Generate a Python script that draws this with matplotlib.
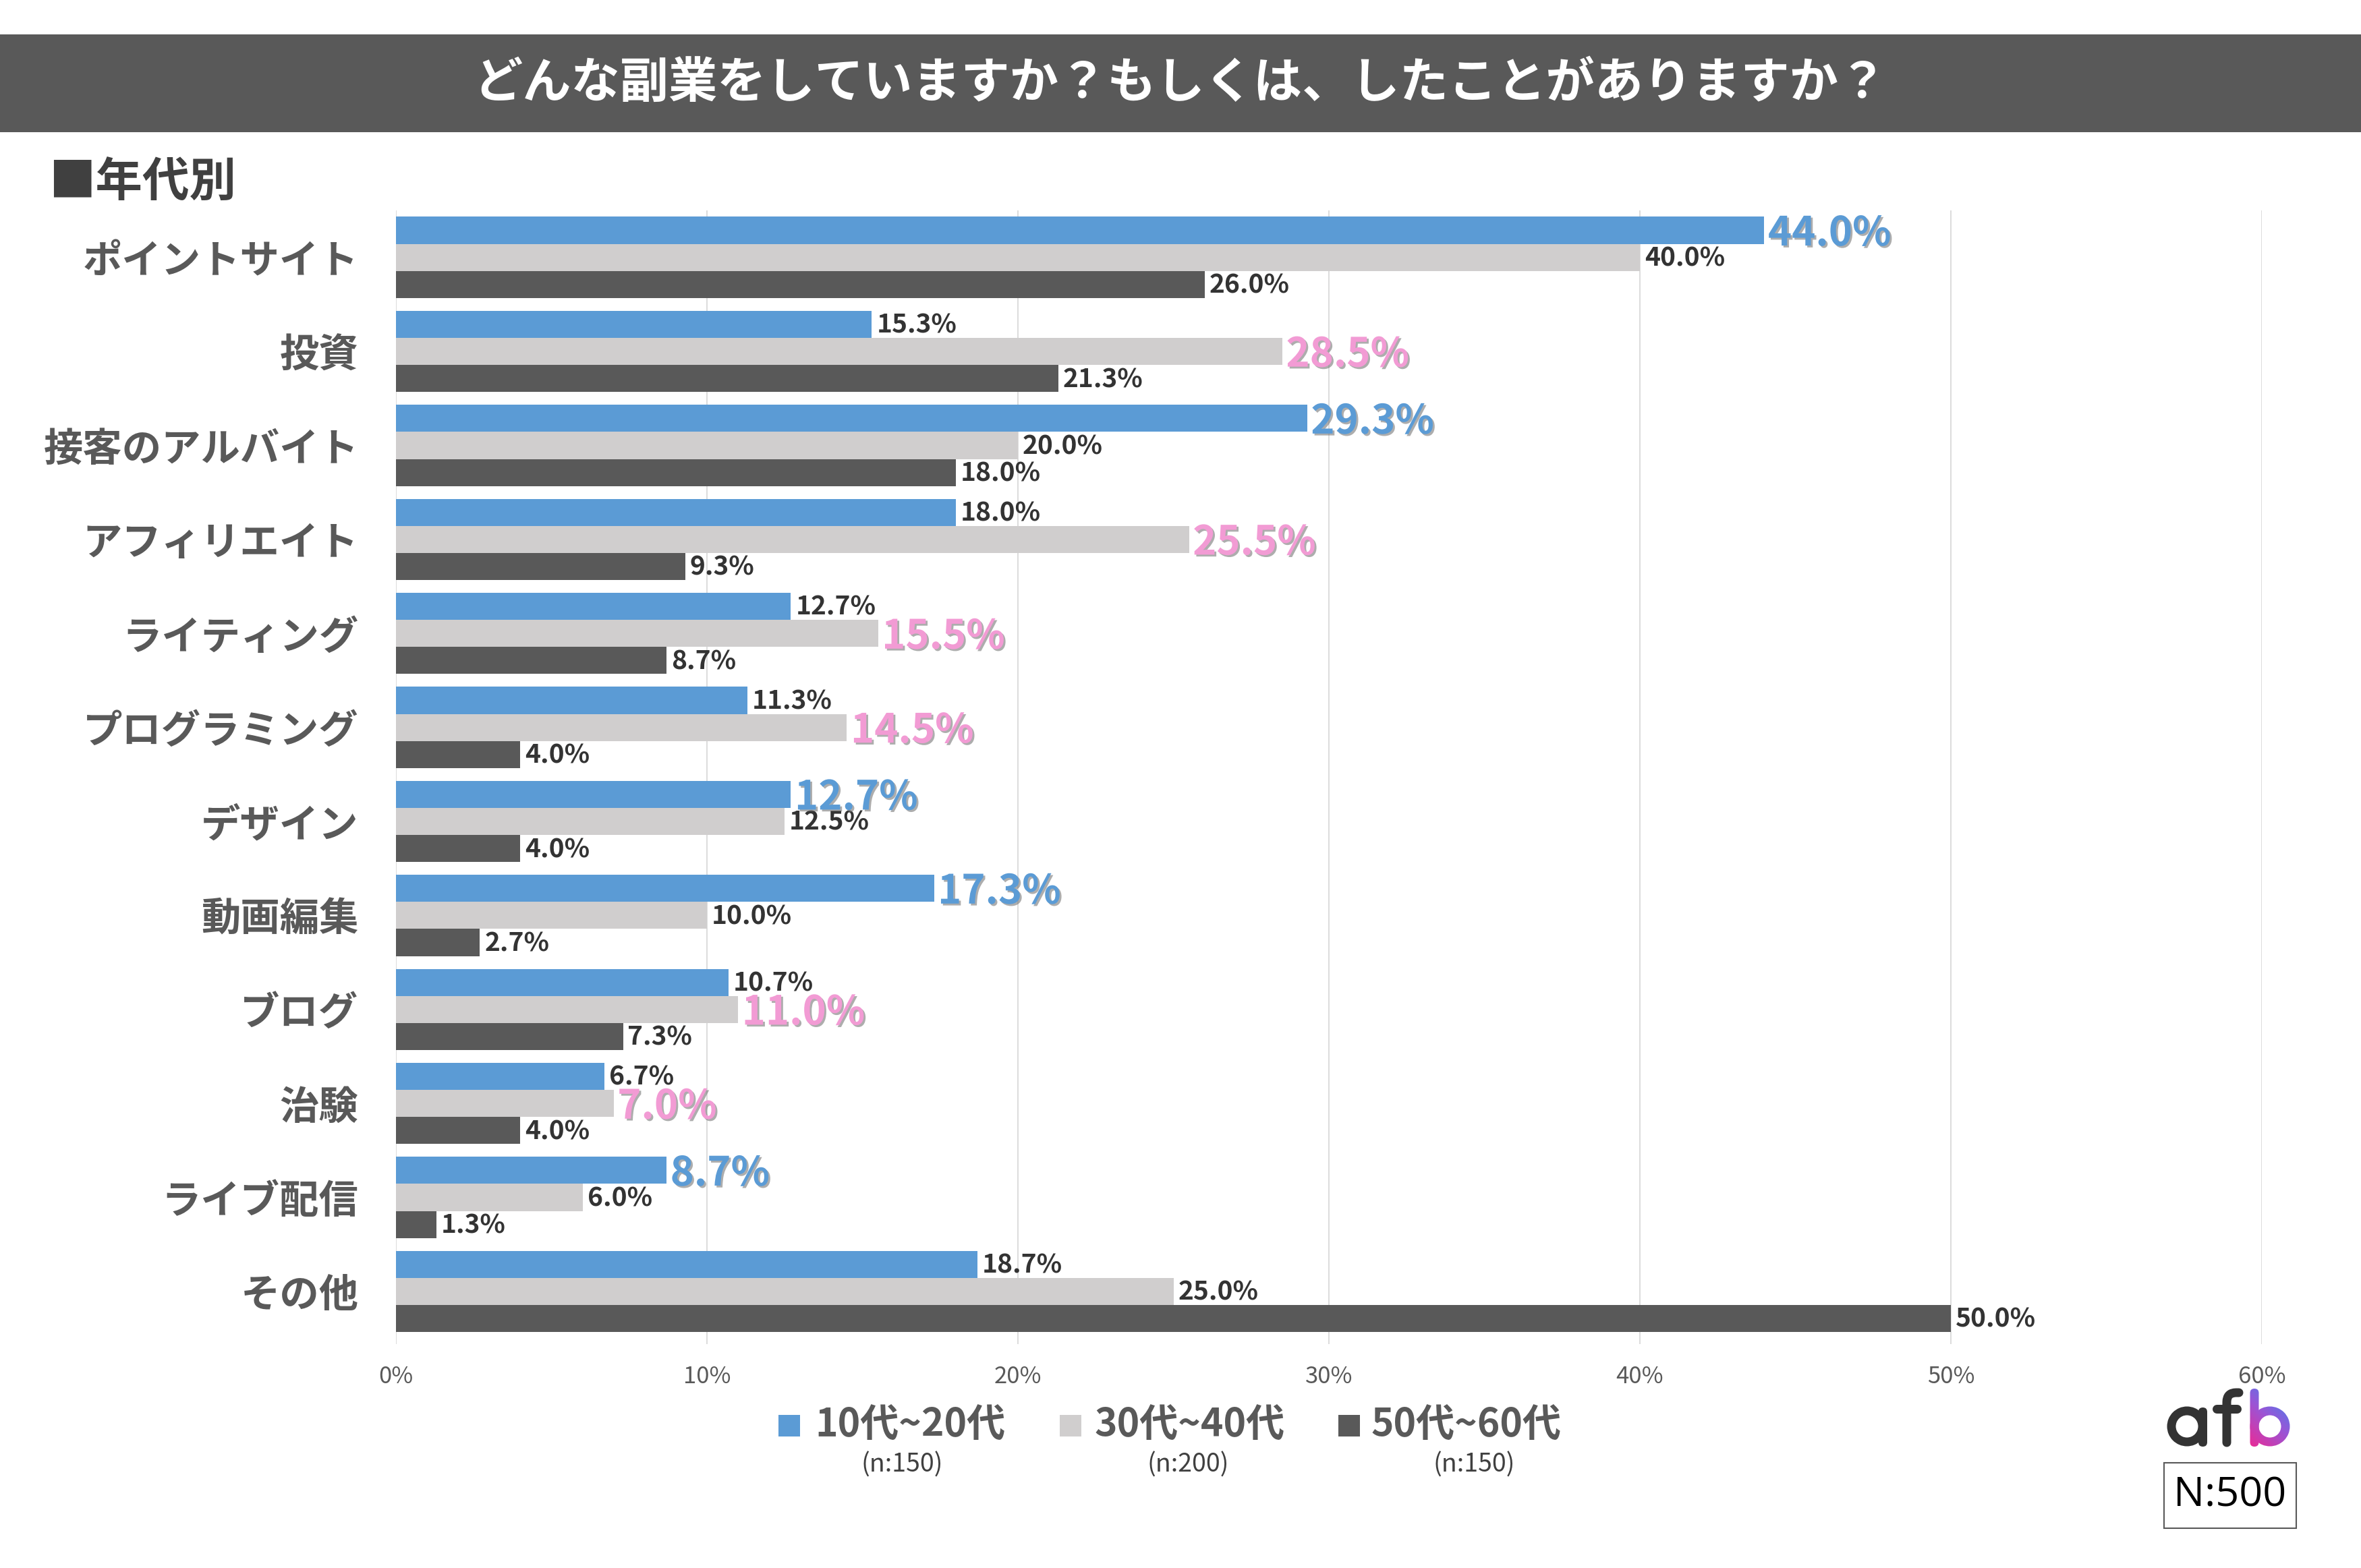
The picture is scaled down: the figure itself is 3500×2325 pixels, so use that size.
import numpy as np
import matplotlib
matplotlib.use("Agg")
import matplotlib.pyplot as plt
import matplotlib.patheffects as pe
from matplotlib.patches import Rectangle, PathPatch, Wedge, FancyBboxPatch
from matplotlib.path import Path

plt.rcParams["font.family"] = ["Noto Sans CJK JP", "DejaVu Sans"]

# ─────────────────────────────────────────────
# data
# ─────────────────────────────────────────────
categories = ["ポイントサイト", "投資", "接客のアルバイト", "アフィリエイト",
              "ライティング", "プログラミング", "デザイン", "動画編集",
              "ブログ", "治験", "ライブ配信", "その他"]
age_10_20 = [44.0, 15.3, 29.3, 18.0, 12.7, 11.3, 12.7, 17.3, 10.7, 6.7, 8.7, 18.7]
age_30_40 = [40.0, 28.5, 20.0, 25.5, 15.5, 14.5, 12.5, 10.0, 11.0, 7.0, 6.0, 25.0]
age_50_60 = [26.0, 21.3, 18.0, 9.3, 8.7, 4.0, 4.0, 2.7, 7.3, 4.0, 1.3, 50.0]
# which series gets the big coloured label in each row (None = none)
highlight = [0, 1, 0, 1, 1, 1, 0, 0, 1, 1, 0, None]

series_names = ["10代~20代", "30代~40代", "50代~60代"]
series_n = ["(n:150)", "(n:200)", "(n:150)"]
bar_colors = ["#5B9BD5", "#D0CECE", "#595959"]
hl_colors = ["#5B9BD5", "#F29BD4", None]
xticks = [0, 10, 20, 30, 40, 50, 60]

title = "どんな副業をしていますか？もしくは、したことがありますか？"
W, H = 3500, 2325

fig = plt.figure(figsize=(W / 100, H / 100), dpi=100)
fig.patch.set_facecolor("white")

# title band
fig.patches.append(Rectangle((0, 1 - 196 / H), 1, 145 / H, transform=fig.transFigure,
                             facecolor="#595959", edgecolor="none", zorder=0))
fig.text(0.5, 1 - 124 / H, title, color="white", fontsize=52, fontweight="bold",
         ha="center", va="center")
fig.text(72 / W, 1 - 272 / H, "■年代別", color="#404040", fontsize=50,
         fontweight="bold", ha="left", va="center")

# ─────────────────────────────────────────────
# bars
# ─────────────────────────────────────────────
ax = fig.add_axes([587 / W, 1 - 1993 / H, (3353 - 587) / W, (1993 - 312) / H])
y = np.arange(len(categories))
h = 0.288
all_series = [age_10_20, age_30_40, age_50_60]
for k, vals in enumerate(all_series):
    pos = y + (k - 1) * h
    ax.barh(pos, vals, height=h, color=bar_colors[k], edgecolor="none", zorder=2)
    for i, v in enumerate(vals):
        if highlight[i] == k:
            ax.annotate(f"{v:.1f}%", (v, pos[i]), xytext=(4, -4), textcoords="offset points",
                        ha="left", va="center", fontsize=43, fontweight="bold",
                        color=hl_colors[k], zorder=4,
                        path_effects=[pe.SimplePatchShadow(offset=(2, -2), shadow_rgbFace="#777777", alpha=0.6),
                                      pe.Normal()])
        else:
            ax.annotate(f"{v:.1f}%", (v, pos[i]), xytext=(5, -1), textcoords="offset points",
                        ha="left", va="center", fontsize=28, fontweight="bold",
                        color="#333333", zorder=3)

ax.set_xlim(0, 60)
ax.set_ylim(11.56, -0.5)
ax.set_xticks(xticks, [f"{t}%" for t in xticks])
ax.set_yticks(y, categories)
ax.tick_params(axis="x", length=0, pad=22, labelsize=25, labelcolor="#595959")
ax.tick_params(axis="y", length=0, pad=40, labelsize=42, labelcolor="#595959")
for lab in ax.get_yticklabels():
    lab.set_fontweight("bold")
ax.grid(axis="x", color="#D9D9D9", linewidth=1.3, zorder=0)
ax.set_axisbelow(True)
for s in ax.spines.values():
    s.set_visible(False)

# ─────────────────────────────────────────────
# legend (hand placed, with sample sizes under each entry)
# ─────────────────────────────────────────────
leg_marker_x = [1154, 1571, 1984]
leg_text_x = [1208, 1623, 2033]
leg_n_x = [1337, 1761, 2185]
for k in range(3):
    fig.patches.append(Rectangle((leg_marker_x[k] / W, 1 - 2130 / H), 32 / W, 32 / H,
                                 transform=fig.transFigure, facecolor=bar_colors[k],
                                 edgecolor="none"))
    fig.text(leg_text_x[k] / W, 1 - 2114 / H, series_names[k], fontsize=41,
             fontweight="bold", color="#595959", ha="left", va="center")
    fig.text(leg_n_x[k] / W, 1 - 2172 / H, series_n[k], fontsize=27,
             color="#404040", ha="center", va="center")

# ─────────────────────────────────────────────
# afb logo (drawn from strokes, axes in pixel units) + N box
# ─────────────────────────────────────────────
lax = fig.add_axes([3200 / W, 1 - 2165 / H, 220 / W, 115 / H])
lax.set_xlim(0, 220)
lax.set_ylim(0, 115)
lax.axis("off")
dark = "#333333"
sw = 13  # stroke width in px
lw_pt = sw * 0.72

# a
lax.add_patch(Wedge((42, 50), 29.5, 0, 360, width=sw, facecolor=dark, edgecolor="none"))
lax.add_patch(FancyBboxPatch((59, 20), sw, 58, boxstyle=f"round,pad=0,rounding_size={sw/2}",
                             facecolor=dark, edgecolor="none"))
# f
f_path = Path([(101, 26), (101, 86), (101, 100), (115, 100), (119, 100)],
              [Path.MOVETO, Path.LINETO, Path.CURVE3, Path.CURVE3, Path.LINETO])
lax.add_patch(PathPatch(f_path, facecolor="none", edgecolor=dark, linewidth=lw_pt,
                        capstyle="round", joinstyle="round"))
lax.plot([86, 116], [76, 76], color=dark, linewidth=lw_pt, solid_capstyle="round")

# b with pink-to-blue gradient
gx, gy = np.meshgrid(np.linspace(0, 1, 64), np.linspace(0, 1, 64))
grad = (gx * 0.8 + gy * 1.2) / 2
cmap = matplotlib.colors.LinearSegmentedColormap.from_list("afb", ["#EC2A94", "#9A55D6", "#2E8BF2"])
b_parts = [Wedge((165, 50), 29.5, 0, 360, width=sw, facecolor="none", edgecolor="none"),
           FancyBboxPatch((135.5, 20), sw, 86, boxstyle=f"round,pad=0,rounding_size={sw/2}",
                          facecolor="none", edgecolor="none")]
for part in b_parts:
    lax.add_patch(part)
    im = lax.imshow(grad, cmap=cmap, extent=[134, 196, 106, 19], origin="upper",
                    aspect="auto", interpolation="bilinear")
    im.set_clip_path(part)
lax.set_xlim(0, 220)
lax.set_ylim(0, 115)

fig.patches.append(Rectangle((3208 / W, 1 - 2266 / H), 196 / W, 97 / H,
                             transform=fig.transFigure, facecolor="white",
                             edgecolor="#595959", linewidth=1.5))
fig.text(3306 / W, 1 - 2218 / H, "N:500", fontsize=44, color="black",
         family=["Open Sans", "DejaVu Sans"], ha="center", va="center")

fig.savefig("out.png", dpi=100)
